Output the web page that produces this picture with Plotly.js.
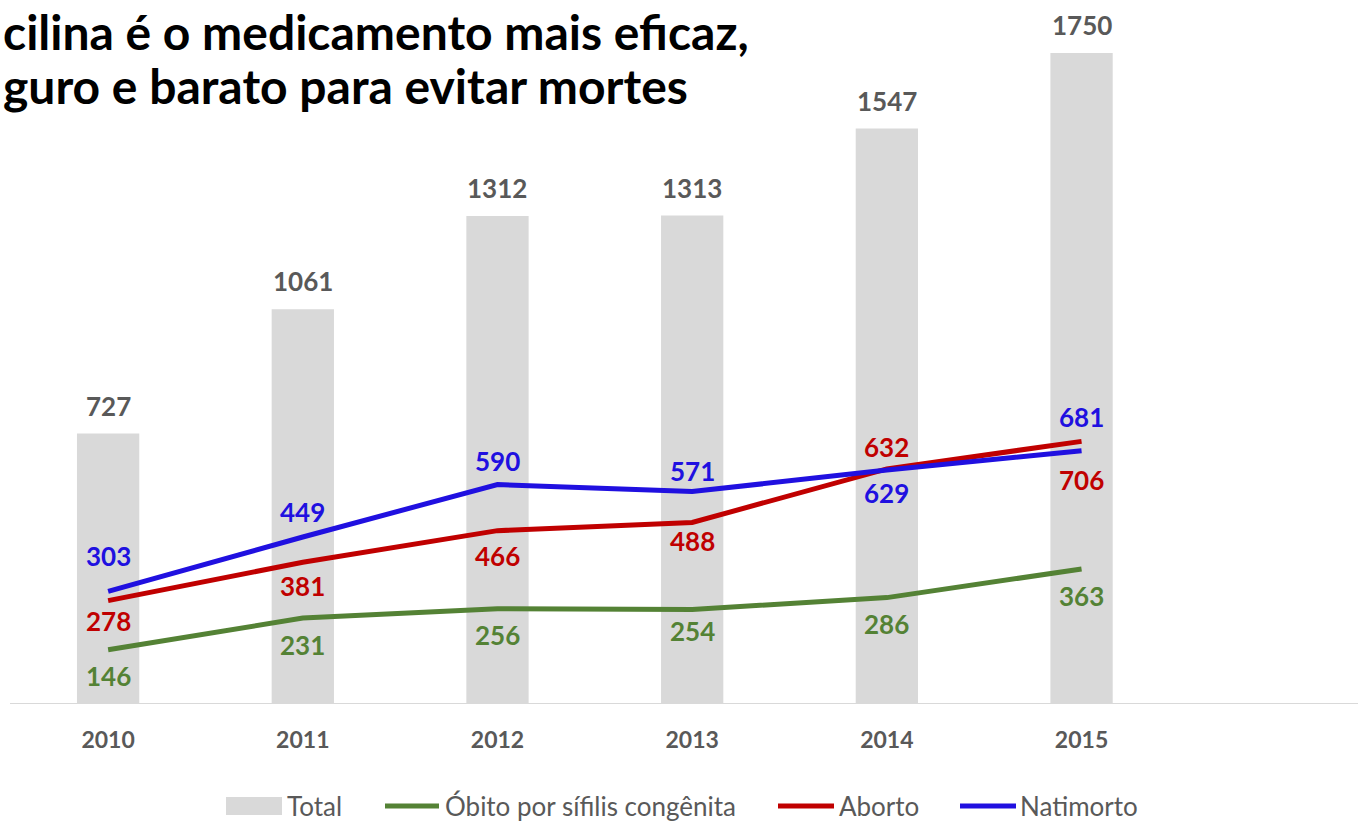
<!DOCTYPE html>
<html>
<head>
<meta charset="utf-8">
<script src="https://cdn.plot.ly/plotly-3.0.1.min.js"></script>
<style>
html,body{margin:0;padding:0;background:#fff;}
#chart{width:1358px;height:821px;}
</style>
</head>
<body>
<div id="chart"></div>
<script>
// ---- data ----
const years = [2010, 2011, 2012, 2013, 2014, 2015];
const total = [727, 1061, 1312, 1313, 1547, 1750];
const obito = [146, 231, 256, 254, 286, 363];
const aborto = [278, 381, 466, 488, 632, 706];
const natimorto = [303, 449, 590, 571, 629, 681];
const seriesNames = ['Total', 'Óbito por sífilis congênita', 'Aborto', 'Natimorto'];
const titleLines = ['cilina é o medicamento mais eficaz,', 'guro e barato para evitar mortes'];

// ---- styling ----
const cGray = '#d9d9d9', cGreen = '#548235', cRed = '#c00000', cBlue = '#2010e0', cText = '#595959';
const FONT = 'Lato, "Open Sans", sans-serif';
const W = 1358, H = 821, ML = 10, MB = 117;
const PW = W - ML, PH = H - MB;
const px = v => (v - ML) / PW;       // pixel -> paper x
const py = v => (PH - v) / PH;       // pixel -> paper y
// label pixel offsets (styling only)
const offTotal = [28, 28, 28, 28, 28, 28];
const offObito = [-26, -27, -26, -21, -26, -27];
const offAborto = [-20, -24, -25, -19, 22, -39];
const offNati = [35, 25, 24, 21, -23, 34];

const traces = [
  {type: 'bar', x: years, y: total, name: seriesNames[0], marker: {color: cGray}, width: 0.32},
  {type: 'scatter', mode: 'lines', x: years, y: obito, name: seriesNames[1], line: {color: cGreen, width: 5}},
  {type: 'scatter', mode: 'lines', x: years, y: aborto, name: seriesNames[2], line: {color: cRed, width: 5}},
  {type: 'scatter', mode: 'lines', x: years, y: natimorto, name: seriesNames[3], line: {color: cBlue, width: 5}}
];

const ann = [];
function addLabels(vals, offs, color) {
  vals.forEach((v, i) => {
    ann.push({x: years[i], y: v, xref: 'x', yref: 'y', text: '<b>' + v + '</b>', showarrow: false,
      yshift: offs[i], font: {family: FONT, size: 26, color: color}});
  });
}
addLabels(total, offTotal, cText);
addLabels(obito, offObito, cGreen);
addLabels(aborto, offAborto, cRed);
addLabels(natimorto, offNati, cBlue);

// title (two lines)
const titleY = [31, 85];
titleLines.forEach((t, i) => {
  ann.push({xref: 'paper', yref: 'paper', x: px(1), y: py(titleY[i]), xanchor: 'left', yanchor: 'middle', align: 'left',
    showarrow: false, text: '<b>' + t + '</b>', font: {family: FONT, size: 48, color: '#000'}});
});

// custom legend (symbols as shapes, names as text)
const shapes = [{type: 'line', xref: 'paper', yref: 'y', x0: 0, x1: 1, y0: 0, y1: 0, line: {color: cGray, width: 2}, layer: 'below'}];
const legY = 806;
const legItems = [
  {kind: 'rect', x0: 226, x1: 282, tx: 285, color: cGray},
  {kind: 'line', x0: 385, x1: 439, tx: 443, color: cGreen},
  {kind: 'line', x0: 778, x1: 834, tx: 837, color: cRed},
  {kind: 'line', x0: 960, x1: 1016, tx: 1018, color: cBlue}
];
legItems.forEach((it, i) => {
  if (it.kind === 'rect') {
    shapes.push({type: 'rect', xref: 'paper', yref: 'paper', x0: px(it.x0), x1: px(it.x1), y0: py(legY - 9), y1: py(legY + 9),
      fillcolor: it.color, line: {width: 0}});
  } else {
    shapes.push({type: 'line', xref: 'paper', yref: 'paper', x0: px(it.x0), x1: px(it.x1), y0: py(legY), y1: py(legY),
      line: {color: it.color, width: 5}});
  }
  ann.push({xref: 'paper', yref: 'paper', x: px(it.tx), y: py(legY), xanchor: 'left', yanchor: 'middle',
    showarrow: false, text: seriesNames[i], font: {family: FONT, size: 26, color: cText}});
});

const layout = {
  width: W, height: H,
  margin: {l: ML, r: 0, t: 0, b: MB, autoexpand: false},
  paper_bgcolor: '#fff', plot_bgcolor: '#fff',
  showlegend: false,
  xaxis: {range: [2009.496, 2016.42], tickvals: years, ticktext: years.map(y => '<b>' + y + '</b>'),
    showgrid: false, zeroline: false, showline: false, ticks: '',
    tickfont: {family: FONT, size: 23, color: cText}, ticklabelstandoff: 20},
  yaxis: {range: [0, 1892.5], showgrid: false, zeroline: false, showticklabels: false, ticks: '', showline: false},
  shapes: shapes,
  annotations: ann,
  font: {family: FONT}
};

Plotly.newPlot('chart', traces, layout, {displayModeBar: false, staticPlot: true});
</script>
</body>
</html>
